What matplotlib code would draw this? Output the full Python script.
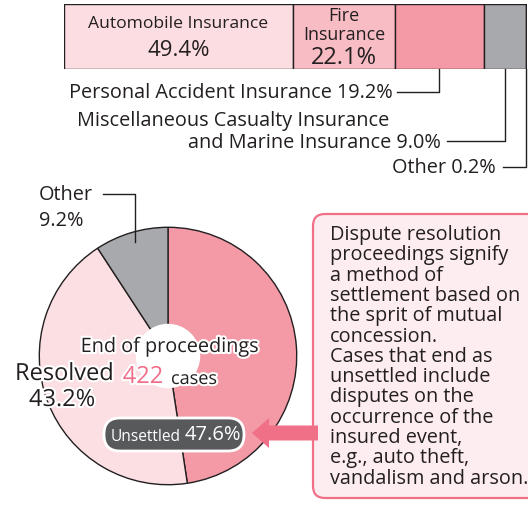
import matplotlib
matplotlib.use("Agg")
import matplotlib.pyplot as plt
import matplotlib.patheffects as pe
from matplotlib.patches import FancyBboxPatch, FancyArrow, Circle
import numpy as np

plt.rcParams['font.family'] = ['Open Sans', 'DejaVu Sans']

# top bar: share of insurance lines
bar_labels = ['Automobile Insurance', 'Fire Insurance', 'Personal Accident Insurance',
              'Miscellaneous Casualty Insurance and Marine Insurance', 'Other']
bar_values = [49.4, 22.1, 19.2, 9.0, 0.2]
bar_colors = ['#fcdde1', '#f8bcc4', '#f39aa6', '#a8a9ad', '#a8a9ad']

# pie: end of proceedings
pie_labels = ['Unsettled', 'Resolved', 'Other']
pie_values = [47.6, 43.2, 9.2]
pie_colors = ['#f39aa6', '#fcdfe3', '#a8a9ad']
total_cases = 422

note_lines = ['Dispute resolution', 'proceedings signify', 'a method of',
              'settlement based on', 'the sprit of mutual', 'concession.',
              'Cases that end as', 'unsettled include', 'disputes on the',
              'occurrence of the', 'insured event,', 'e.g., auto theft,',
              'vandalism and arson.']

W, H = 528, 506
fig = plt.figure(figsize=(W / 100, H / 100), dpi=100)

dark = '#231f20'
pink = '#ef6f89'

# ---- stacked bar ----
bx0, bx1, by0, by1 = 64, 527, 5, 70
axb = fig.add_axes([bx0 / W, 1 - by1 / H, (bx1 - bx0) / W, (by1 - by0) / H])
left = np.concatenate([[0], np.cumsum(bar_values)[:-1]])
axb.barh(0, bar_values, left=left, height=1, color=bar_colors, edgecolor=dark, linewidth=1)
axb.set_xlim(0, 100)
axb.set_ylim(-0.5, 0.5)
axb.axis('off')

# ---- pie ----
cx, cy, r = 168, 357, 130
axp = fig.add_axes([(cx - r) / W, 1 - (cy + r) / H, 2 * r / W, 2 * r / H])
axp.pie(pie_values, colors=pie_colors, startangle=90, counterclock=False,
        wedgeprops=dict(edgecolor=dark, linewidth=1))
axp.add_patch(Circle((0, 0), 0.245, color='white', zorder=5))
axp.set_xlim(-1.01, 1.01)
axp.set_ylim(-1.01, 1.01)

# overlay axes in pixel coordinates, on top
ax0 = fig.add_axes([0, 0, 1, 1])
ax0.set_xlim(0, W)
ax0.set_ylim(H, 0)
ax0.axis('off')


def px(v):
    return bx0 + v / 100 * (bx1 - bx0)


fs = 14.3
ax0.text(px(left[0] + bar_values[0] / 2), 24, 'Automobile Insurance', ha='center', va='center',
         fontsize=12.6, color=dark)
ax0.text(px(left[0] + bar_values[0] / 2), 50, f'{bar_values[0]}%', ha='center', va='center',
         fontsize=16, color=dark)
ax0.text(px(left[1] + bar_values[1] / 2), 16, 'Fire', ha='center', va='center', fontsize=12.9, color=dark)
ax0.text(px(left[1] + bar_values[1] / 2), 35, 'Insurance', ha='center', va='center', fontsize=12.9, color=dark)
ax0.text(px(left[1] + bar_values[1] / 2), 58, f'{bar_values[1]}%', ha='center', va='center',
         fontsize=17, color=dark)

# leader lines
lx = px(left[2] + bar_values[2] / 2)
ax0.plot([lx, lx, 397], [by1, 93, 93], color=dark, lw=1)
ax0.text(393, 93, f'Personal Accident Insurance {bar_values[2]}%', ha='right', va='center',
         fontsize=fs, color=dark)

lx = px(left[3] + bar_values[3] / 2)
ax0.plot([lx, lx, 447], [by1, 142, 142], color=dark, lw=1)
ax0.text(389, 121, 'Miscellaneous Casualty Insurance', ha='right', va='center', fontsize=fs, color=dark)
ax0.text(441, 143, f'and Marine Insurance {bar_values[3]}%', ha='right', va='center',
         fontsize=fs, color=dark)

lx = px(left[4] + bar_values[4] / 2)
ax0.plot([lx, lx, 503], [by1, 168, 168], color=dark, lw=1)
ax0.text(496, 168, f'Other {bar_values[4]}%', ha='right', va='center', fontsize=fs, color=dark)

white_stroke = [pe.withStroke(linewidth=3, foreground='white')]

ax0.text(170, 348, 'End of proceedings', ha='center', va='center', fontsize=14.3, color=dark,
         path_effects=white_stroke, zorder=10)
ax0.text(163, 378, str(total_cases), ha='right', va='center', fontsize=17, color=pink,
         path_effects=white_stroke, zorder=10)
ax0.text(171, 380, 'cases', ha='left', va='center', fontsize=13, color=dark,
         path_effects=white_stroke, zorder=10)

ax0.text(15, 375, pie_labels[1], ha='left', va='center', fontsize=17, color=dark,
         path_effects=white_stroke, zorder=10)
ax0.text(62, 401, f'{pie_values[1]}%', ha='center', va='center', fontsize=17, color=dark,
         path_effects=white_stroke, zorder=10)

ax0.text(39, 195, pie_labels[2], ha='left', va='center', fontsize=fs, color=dark)
ax0.text(39, 221, f'{pie_values[2]}%', ha='left', va='center', fontsize=fs, color=dark)
ax0.plot([103, 135, 135], [195, 195, 243], color=dark, lw=1, zorder=10)

# unsettled label
ax0.add_patch(FancyBboxPatch((104, 419), 140, 33, boxstyle='round,pad=0,rounding_size=16',
                             fc='#58595b', ec='white', lw=2, zorder=10))
ax0.text(181, 437, pie_labels[0], ha='right', va='center', fontsize=11.2, color='white', zorder=11)
ax0.text(185, 435, f'{pie_values[0]}%', ha='left', va='center', fontsize=14.5, color='white', zorder=11)

# arrow
ax0.add_patch(FancyArrow(318, 434, -66, 0, width=15, head_width=30, head_length=17,
                         length_includes_head=True, color='#f07088', lw=0, zorder=9))

# note box
ax0.add_patch(FancyBboxPatch((313, 215), 240, 284, boxstyle='round,pad=0,rounding_size=12',
                             fc='#fdedf0', ec='#f07088', lw=1.6, zorder=8))
for i, line in enumerate(note_lines):
    ax0.text(330, 235 + i * 20.3, line, ha='left', va='center', fontsize=14.3, color=dark, zorder=11)

fig.savefig('out.png', dpi=100)
